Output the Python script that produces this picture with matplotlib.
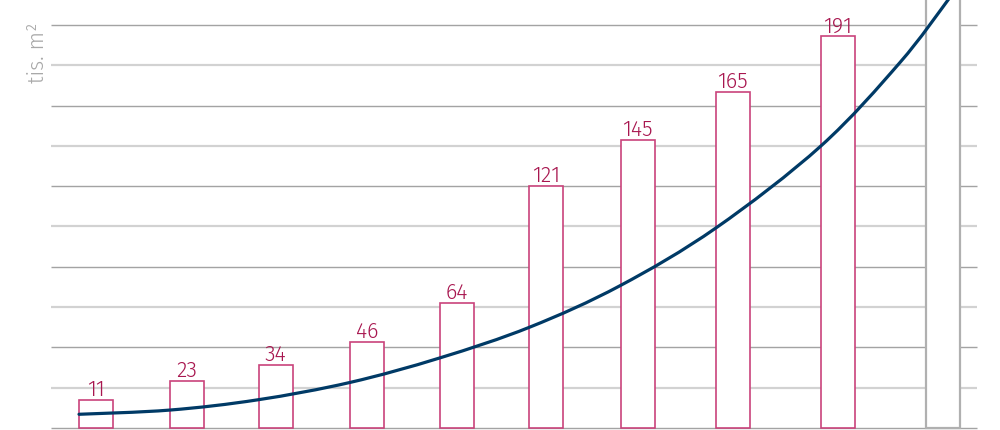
import numpy as np
import matplotlib.pyplot as plt
from matplotlib.path import Path
from matplotlib.patches import PathPatch

# bar labels (tis. m2) and the bar heights as drawn in the picture
labels = ['11', '23', '34', '46', '64', '121', '145', '165', '191']
heights = [13.9, 23.3, 31.3, 42.7, 62.0, 120.1, 142.9, 166.7, 194.5]
# last bar has no label and runs off the top of the chart
last_height = 230

# trend curve (x in chart units, y in tis. m2)
curve_x = [79, 170, 258, 350, 440, 530, 620, 716, 821, 900, 948, 960]
curve_y = [6.8, 8.9, 14.0, 22.6, 34.8, 50.1, 70.6, 99.3, 140.0, 181.4, 212.4, 221.0]

# layout: bar centres along the chart
bar_x = [96, 187, 275.5, 367, 457, 546, 637.5, 732.5, 838, 942.5]
bar_w = 34

PINK = '#c9437b'
LABEL = '#a8164f'
NAVY = '#003a66'


def smooth_path(xs, ys):
    # catmull-rom through the read points, drawn as cubic bezier segments
    p = np.column_stack([xs, ys]).astype(float)
    p = np.vstack([p[0], p, p[-1]])
    verts = [p[1]]
    codes = [Path.MOVETO]
    for i in range(1, len(p) - 2):
        c1 = p[i] + (p[i + 1] - p[i - 1]) / 6
        c2 = p[i + 1] - (p[i + 2] - p[i]) / 6
        verts += [c1, c2, p[i + 1]]
        codes += [Path.CURVE4] * 3
    return Path(verts, codes)


plt.rcParams['font.family'] = ['Fira Sans', 'DejaVu Sans']

fig = plt.figure(figsize=(10, 4.3), dpi=100)
ax = fig.add_axes([0, 0, 1, 1])
ax.set_xlim(0, 1000)
ax.set_ylim(-1.0, 212.4)
ax.axis('off')

# gridlines: dark every 40, light in between
for v in range(0, 201, 20):
    if v % 40 == 0:
        ax.hlines(v, 51, 977, color='#a3a3a3', lw=1.0, zorder=1)
    else:
        ax.hlines(v, 51, 977, color='#d2d2d2', lw=1.6, zorder=1)

ax.bar(bar_x[:-1], heights, width=bar_w, facecolor='white', edgecolor=PINK,
       linewidth=1.2, zorder=2)
ax.bar(bar_x[-1], last_height, width=bar_w, facecolor='white',
       edgecolor='#b0b0b0', linewidth=1.6, zorder=2)

for x, h, t in zip(bar_x, heights, labels):
    ax.text(x, h + 1.8, t, ha='center', va='baseline', fontsize=15.5,
            fontweight=300, color=LABEL, zorder=4)

ax.add_patch(PathPatch(smooth_path(curve_x, curve_y), facecolor='none',
                       edgecolor=NAVY, lw=2.3, zorder=3, capstyle='round'))

fig.text(0.038, 0.877, 'tis. m²', rotation=90, ha='center', va='center',
         fontsize=15.5, fontweight=300, color='#a8a8a8')

fig.savefig('out.png', dpi=100)
